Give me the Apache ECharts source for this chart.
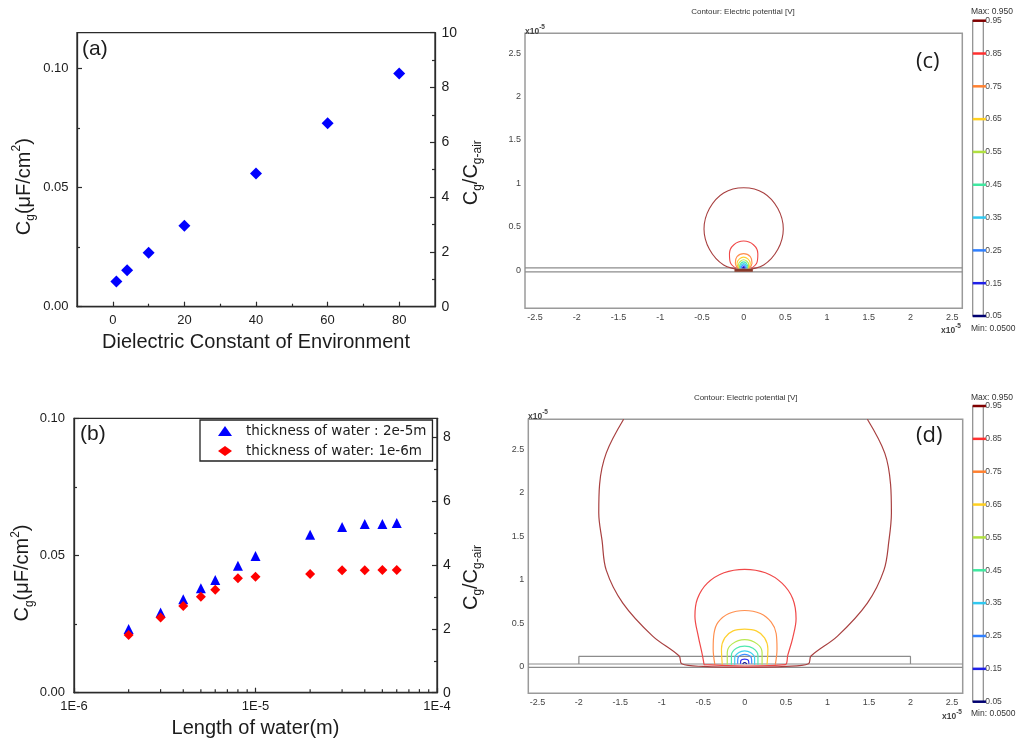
<!DOCTYPE html>
<html><head><meta charset="utf-8">
<script src="https://cdn.jsdelivr.net/npm/echarts@6/dist/echarts.min.js"></script>
<style>html,body{margin:0;padding:0;background:#fff}#chart{width:1026px;height:744px}</style>
</head><body><div id="chart"></div>
<script>
// ---------------- data ----------------
// panel (a)
const aDielectric = [1, 4, 10, 20, 40, 60, 80];
const aCg = [0.0106, 0.0153, 0.0226, 0.0340, 0.0559, 0.0770, 0.0979];
const aXTicks = [0, 20, 40, 60, 80];
const aXMinor = [10, 30, 50, 70];
const aYTicks = [0, 0.05, 0.10];
const aYMinor = [0.025, 0.075];
const aRTicks = [0, 2, 4, 6, 8, 10];
const aRMinor = [1, 3, 5, 7, 9];
// panel (b)
const bLength = [2e-6, 3e-6, 4e-6, 5e-6, 6e-6, 8e-6, 1e-5, 2e-5, 3e-5, 4e-5, 5e-5, 6e-5];
const bCgThick2e5 = [0.0232, 0.0292, 0.0341, 0.0381, 0.0411, 0.0463, 0.0498, 0.0576, 0.0604, 0.0615, 0.0615, 0.0618];
const bCgThick1e6 = [0.0210, 0.0274, 0.0316, 0.0350, 0.0375, 0.0417, 0.0423, 0.0433, 0.0446, 0.0446, 0.0447, 0.0447];
const bSeriesNames = ['thickness of water : 2e-5m', 'thickness of water: 1e-6m'];
const bXMinor = [2e-6, 3e-6, 4e-6, 5e-6, 6e-6, 7e-6, 8e-6, 9e-6, 2e-5, 3e-5, 4e-5, 5e-5, 6e-5, 7e-5, 8e-5, 9e-5];
const bYTicks = [0, 0.05, 0.10];
const bYMinor = [0.025, 0.075];
const bRTicks = [0, 2, 4, 6, 8];
const bRMinor = [1, 3, 5, 7];
// panels (c),(d): coordinates in units of 1e-5 m
const fieldTicksX = [-2.5, -2, -1.5, -1, -0.5, 0, 0.5, 1, 1.5, 2, 2.5];
const fieldTicksY = [0, 0.5, 1, 1.5, 2, 2.5];
const levels = ['0.05', '0.15', '0.25', '0.35', '0.45', '0.55', '0.65', '0.75', '0.85', '0.95'];
const levelColors = ['#000070', '#2020e8', '#3080ff', '#30c8f0', '#40e8a0', '#b0e040', '#ffd020', '#ff8030', '#ff3030', '#800000'];
const contourColors = ['#101090', '#3030f0', '#4090ff', '#40d0f0', '#50e8b0', '#b8e850', '#ffd030', '#ff9050', '#f04848', '#a84040'];

const c05 = [[-0.01,0.02],[0,0.03],[0.01,0.02]];
const c15 = [[-0.02,0.02],[0,0.045],[0.02,0.02]];
const c25 = [[-0.03,0.02],[-0.025,0.045],[0,0.06],[0.025,0.045],[0.03,0.02]];
const c35 = [[-0.04,0.02],[-0.035,0.05],[0,0.075],[0.035,0.05],[0.04,0.02]];
const c45 = [[-0.05,0.02],[-0.045,0.06],[0,0.095],[0.045,0.06],[0.05,0.02]];
const c55 = [[-0.055,0.02],[-0.06,0.07],[0,0.12],[0.06,0.07],[0.055,0.02]];
const c65 = [[-0.06,0.02],[-0.08,0.08],[-0.05,0.13],[0,0.15],[0.05,0.13],[0.08,0.08],[0.06,0.02]];
const c75 = [[-0.07,0.02],[-0.1,0.08],[-0.08,0.155],[0,0.19],[0.08,0.155],[0.1,0.08],[0.07,0.02]];
const c85 = [[-0.09,0.02],[-0.16,0.09],[-0.17,0.19],[-0.12,0.29],[0,0.335],[0.12,0.29],[0.17,0.19],[0.16,0.09],[0.09,0.02]];
const c95 = [[0,0],[-0.24,0.06],[-0.41,0.24],[-0.475,0.475],[-0.41,0.71],[-0.24,0.89],[0,0.95],[0.24,0.89],[0.41,0.71],[0.475,0.475],[0.41,0.24],[0.24,0.06],[0,0]];
const cContours = [c05, c15, c25, c35, c45, c55, c65, c75, c85, c95];
const cElectrode = [[-0.11,0.0],[0.11,0.0]];
const cLayerTop = [[-2.62,0.025],[2.62,0.025]];
const cLayerBottom = [[-2.62,-0.02],[2.62,-0.02]];

const d05 = [[-0.025,0.03],[0,0.045],[0.025,0.03]];
const d15 = [[-0.05,0.03],[-0.045,0.07],[0,0.085],[0.045,0.07],[0.05,0.03]];
const d25 = [[-0.085,0.03],[-0.08,0.1],[0,0.14],[0.08,0.1],[0.085,0.03]];
const d35 = [[-0.12,0.02],[-0.12,0.1],[-0.07,0.16],[0,0.18],[0.07,0.16],[0.12,0.1],[0.12,0.02]];
const d45 = [[-0.16,0.02],[-0.16,0.13],[-0.1,0.21],[0,0.235],[0.1,0.21],[0.16,0.13],[0.16,0.02]];
const d55 = [[-0.21,0.02],[-0.21,0.16],[-0.15,0.26],[0,0.31],[0.15,0.26],[0.21,0.16],[0.21,0.02]];
const d65 = [[-0.27,0.02],[-0.28,0.2],[-0.24,0.33],[-0.14,0.41],[0,0.43],[0.14,0.41],[0.24,0.33],[0.28,0.2],[0.27,0.02]];
const d75 = [[-0.36,0.02],[-0.38,0.2],[-0.37,0.38],[-0.32,0.51],[-0.19,0.61],[0,0.645],[0.19,0.61],[0.32,0.51],[0.38,0.38],[0.39,0.2],[0.37,0.02]];
const d85 = [[-0.49,0.02],[-0.51,0.13],[-0.56,0.35],[-0.60,0.58],[-0.57,0.78],[-0.45,0.96],[-0.25,1.08],[0,1.12],[0.25,1.08],[0.45,0.96],[0.58,0.78],[0.62,0.55],[0.58,0.33],[0.52,0.13],[0.49,0.02],[0,0.005],[-0.49,0.02]];
const d95 = [[-1.46,2.85],[-1.67,2.46],[-1.75,2.1],[-1.76,1.77],[-1.72,1.45],[-1.67,1.11],[-1.47,0.73],[-1.11,0.35],[-0.79,0.12],[-0.76,0.03],[-0.5,0.0],[0,-0.01],[0.5,0.0],[0.77,0.03],[0.80,0.12],[1.12,0.35],[1.48,0.73],[1.68,1.11],[1.74,1.45],[1.77,1.77],[1.76,2.1],[1.69,2.46],[1.48,2.85]];
const dContours = [d05, d15, d25, d35, d45, d55, d65, d75, d85, d95];
const dWater = [[-2,0.028],[-2,0.115],[2,0.115],[2,0.028]];
const dLayerTop = [[-2.61,0.028],[2.63,0.028]];
const dLayerBottom = [[-2.61,-0.012],[2.63,-0.012]];

// ---------------- styling helpers ----------------
const FONT = '"Liberation Sans", Arial, sans-serif';
const SMALL = '"Liberation Sans", Arial, sans-serif';
const INK = '#1c1c1c';
const AX = '#2b2b2b';
const richName = {
  m:   {fontSize: 20, fontFamily: FONT, color: INK, lineHeight: 26},
  sub: {fontSize: 12, fontFamily: FONT, color: INK, verticalAlign: 'bottom', lineHeight: 14},
  sup: {fontSize: 12, fontFamily: FONT, color: INK, verticalAlign: 'top', lineHeight: 14}
};
function mainAxis(o) {
  return Object.assign({
    type: 'value', splitLine: {show: false},
    axisLine: {show: true, onZero: false, lineStyle: {color: AX, width: 1.3}}
  }, o);
}
function minorAxis(o) {
  return Object.assign({
    type: 'value', splitLine: {show: false},
    axisLine: {show: false, onZero: false}, axisLabel: {show: false}
  }, o);
}
function tickStyle(vals, len) {
  return {show: true, inside: true, length: len, customValues: vals, lineStyle: {color: AX, width: 1.2}};
}
function labelStyle(vals, size, margin, fmt) {
  const s = {customValues: vals, color: INK, fontSize: size, margin: margin, fontFamily: FONT};
  if (fmt) s.formatter = fmt;
  return s;
}
function fieldX(grid, min, max) {
  return {type: 'value', gridIndex: grid, min: min, max: max, splitLine: {show: false},
    axisLine: {show: false, onZero: false}, axisTick: {show: false},
    axisLabel: {customValues: fieldTicksX, fontSize: 9, color: '#444', margin: 5, fontFamily: SMALL}};
}
function fieldY(grid, min, max) {
  return {type: 'value', gridIndex: grid, min: min, max: max, splitLine: {show: false},
    axisLine: {show: false, onZero: false}, axisTick: {show: false},
    axisLabel: {customValues: fieldTicksY, fontSize: 9, color: '#444', margin: 4, fontFamily: SMALL}};
}
function lineSeries(xi, yi, data, color, width, z) {
  return {type: 'line', xAxisIndex: xi, yAxisIndex: yi, data: data, showSymbol: false, symbol: 'none',
    smooth: 0.35, silent: true, animation: false, z: z || 3,
    lineStyle: {color: color, width: width}};
}
function smallText(text, left, top, size, align) {
  return {text: text, left: left, top: top, padding: 0, textAlign: align || 'left',
    textStyle: {fontSize: size, fontWeight: 'normal', color: '#333', fontFamily: SMALL}};
}
function x10(left, top) {
  return {text: '{b|x10}{s|-5}', left: left, top: top, padding: 0,
    textStyle: {rich: {b: {fontSize: 8.5, color: '#444', fontFamily: SMALL, lineHeight: 12, verticalAlign: 'bottom'},
                       s: {fontSize: 6.5, color: '#444', fontFamily: SMALL, lineHeight: 8, verticalAlign: 'top'}}}};
}
function panelLabel(text, left, top, size, family) {
  return {text: text, left: left, top: top, padding: 0,
    textStyle: {fontSize: size, fontWeight: 'normal', color: INK, fontFamily: family}};
}

// ---------------- option ----------------
const grids = [
  {left: 77, top: 32.7, width: 358, height: 274, show: true, borderColor: AX, borderWidth: 1.3},      // a
  {left: 74, top: 418.3, width: 363, height: 274.4, show: true, borderColor: AX, borderWidth: 1.3},   // b
  {left: 525, top: 33.3, width: 437.3, height: 275, show: true, borderColor: '#9a9a9a', borderWidth: 1.5}, // c
  {left: 528.3, top: 419.3, width: 434.4, height: 274, show: true, borderColor: '#9a9a9a', borderWidth: 1.5}, // d
  {left: 972.7, top: 20.7, width: 10.6, height: 295.3, show: true, borderColor: '#8a8a8a', borderWidth: 1.2, backgroundColor: '#fff'}, // cb c
  {left: 972.7, top: 406, width: 10.6, height: 295.7, show: true, borderColor: '#8a8a8a', borderWidth: 1.2, backgroundColor: '#fff'}   // cb d
];

const xAxes = [
  // 0: (a) main
  mainAxis({gridIndex: 0, min: -10, max: 90, position: 'bottom',
    axisTick: tickStyle(aXTicks, 5), axisLabel: labelStyle(aXTicks, 13, 7),
    name: 'Dielectric Constant of Environment', nameLocation: 'middle', nameGap: 26,
    nameTextStyle: {fontSize: 20, color: INK, fontFamily: FONT}}),
  // 1: (a) minor
  minorAxis({gridIndex: 0, min: -10, max: 90, position: 'bottom', axisTick: tickStyle(aXMinor, 3)}),
  // 2: (b) log
  {type: 'log', logBase: 10, gridIndex: 1, min: 1e-6, max: 1e-4, position: 'bottom', splitLine: {show: false},
    axisLine: {show: true, onZero: false, lineStyle: {color: AX, width: 1.3}},
    axisTick: {show: true, inside: true, length: 5, lineStyle: {color: AX, width: 1.2}},
    axisLabel: {color: INK, fontSize: 13, margin: 7, fontFamily: FONT,
      formatter: v => '1E' + Math.round(Math.log10(v))},
    minorTick: {show: false},
    name: 'Length of water(m)', nameLocation: 'middle', nameGap: 25.6,
    nameTextStyle: {fontSize: 20, color: INK, fontFamily: FONT}},
  // 3: (c)
  fieldX(2, -2.62, 2.62),
  // 4: (d)
  fieldX(3, -2.61, 2.63),
  // 5,6: colour bars (level strokes reach slightly past the bar's right edge)
  {type: 'value', gridIndex: 4, min: 0, max: 0.8, show: false},
  {type: 'value', gridIndex: 5, min: 0, max: 0.8, show: false}
];

const yAxes = [
  // 0: (a) left
  mainAxis({gridIndex: 0, min: 0, max: 0.115, position: 'left',
    axisTick: tickStyle(aYTicks, 5), axisLabel: labelStyle(aYTicks, 13, 8.5, v => v.toFixed(2)),
    name: '{m|C}{sub|g}{m|(μF/cm}{sup|2}{m|)}', nameLocation: 'middle', nameGap: 40, nameRotate: 90,
    nameTextStyle: {rich: richName, padding: [0, 34, 0, 0]}}),
  // 1: (a) left minor
  minorAxis({gridIndex: 0, min: 0, max: 0.115, position: 'left', axisTick: tickStyle(aYMinor, 3)}),
  // 2: (a) right
  mainAxis({gridIndex: 0, min: 0, max: 10, position: 'right',
    axisTick: tickStyle(aRTicks, 5), axisLabel: labelStyle(aRTicks, 14, 6.5),
    name: '{m|C}{sub|g}{m|/C}{sub|g-air}', nameLocation: 'middle', nameGap: 23, nameRotate: 90,
    nameTextStyle: {rich: richName, padding: [0, 6, 0, 0]}}),
  // 3: (a) right minor
  minorAxis({gridIndex: 0, min: 0, max: 10, position: 'right', axisTick: tickStyle(aRMinor, 3)}),
  // 4: (b) left
  mainAxis({gridIndex: 1, min: 0, max: 0.10, position: 'left',
    axisTick: tickStyle(bYTicks, 5), axisLabel: labelStyle(bYTicks, 13, 9, v => v.toFixed(2)),
    name: '{m|C}{sub|g}{m|(μF/cm}{sup|2}{m|)}', nameLocation: 'middle', nameGap: 37, nameRotate: 90,
    nameTextStyle: {rich: richName, padding: [0, 35, 0, 0]}}),
  // 5: (b) left minor
  minorAxis({gridIndex: 1, min: 0, max: 0.10, position: 'left', axisTick: tickStyle(bYMinor, 3)}),
  // 6: (b) right
  mainAxis({gridIndex: 1, min: 0, max: 8.6, position: 'right',
    axisTick: tickStyle(bRTicks, 5), axisLabel: labelStyle(bRTicks, 14, 6),
    name: '{m|C}{sub|g}{m|/C}{sub|g-air}', nameLocation: 'middle', nameGap: 21, nameRotate: 90,
    nameTextStyle: {rich: richName, padding: [0, 44, 0, 0]}}),
  // 7: (b) right minor
  minorAxis({gridIndex: 1, min: 0, max: 8.6, position: 'right', axisTick: tickStyle(bRMinor, 3)}),
  // 8: (c)
  fieldY(2, -0.44, 2.73),
  // 9: (d)
  fieldY(3, -0.31, 2.85),
  // 10, 11: colour bars
  {type: 'category', gridIndex: 4, data: levels, boundaryGap: false, position: 'right',
    axisLine: {show: false}, axisTick: {show: false}, splitLine: {show: false},
    axisLabel: {interval: 0, fontSize: 8.5, color: '#444', margin: 2, fontFamily: SMALL}},
  {type: 'category', gridIndex: 5, data: levels, boundaryGap: false, position: 'right',
    axisLine: {show: false}, axisTick: {show: false}, splitLine: {show: false},
    axisLabel: {interval: 0, fontSize: 8.5, color: '#444', margin: 2, fontFamily: SMALL}}
];

const series = [];
// (a)
series.push({type: 'scatter', xAxisIndex: 0, yAxisIndex: 0, symbol: 'diamond', symbolSize: 12,
  itemStyle: {color: '#0000ff', opacity: 1}, data: aDielectric.map((x, i) => [x, aCg[i]]), z: 5});
// (b)
series.push({name: bSeriesNames[0], type: 'scatter', xAxisIndex: 2, yAxisIndex: 4, symbol: 'triangle', symbolSize: 10,
  itemStyle: {color: '#0000ff', opacity: 1}, data: bLength.map((x, i) => [x, bCgThick2e5[i]]), z: 5});
series.push({name: bSeriesNames[1], type: 'scatter', xAxisIndex: 2, yAxisIndex: 4, symbol: 'diamond', symbolSize: 10,
  itemStyle: {color: '#ff0000', opacity: 1}, data: bLength.map((x, i) => [x, bCgThick1e6[i]]), z: 6});
// (b) minor log ticks, placed through the log scale
series.push({type: 'scatter', xAxisIndex: 2, yAxisIndex: 4, symbol: 'rect', symbolSize: [1.2, 3.5], symbolOffset: [0, -1.8],
  itemStyle: {color: AX, opacity: 1}, silent: true, data: bXMinor.map(x => [x, 0]), z: 7});
// (c)
series.push(lineSeries(3, 8, cLayerTop, '#8c8c8c', 1.2, 2));
series.push(lineSeries(3, 8, cLayerBottom, '#8c8c8c', 1.2, 2));
cContours.forEach((c, i) => series.push(lineSeries(3, 8, c, contourColors[i], 1.1, 4)));
series.push(lineSeries(3, 8, cElectrode, '#8a3a2a', 3, 5));
// (d)
series.push(lineSeries(4, 9, dLayerTop, '#8c8c8c', 1.2, 2));
series.push(lineSeries(4, 9, dLayerBottom, '#8c8c8c', 1.2, 2));
series.push(Object.assign(lineSeries(4, 9, dWater, '#8c8c8c', 1.2, 2), {smooth: false}));
dContours.forEach((c, i) => series.push(lineSeries(4, 9, c, contourColors[i], 1.2, 4)));
// colour bars
series.push({type: 'bar', xAxisIndex: 5, yAxisIndex: 10, barWidth: 2.5, silent: true, animation: false, clip: false,
  data: levels.map((l, i) => ({value: 1, itemStyle: {color: levelColors[i]}}))});
series.push({type: 'bar', xAxisIndex: 6, yAxisIndex: 11, barWidth: 2.5, silent: true, animation: false, clip: false,
  data: levels.map((l, i) => ({value: 1, itemStyle: {color: levelColors[i]}}))});

const titles = [
  panelLabel('(a)', 82, 39, 21, FONT),
  panelLabel('(b)', 80, 424, 21, FONT),
  panelLabel('(c)', 916, 51, 22, '"Open Sans", sans-serif'),
  panelLabel('(d)', 916, 425, 22, '"Open Sans", sans-serif'),
  smallText('Contour: Electric potential [V]', 743, 7.5, 8, 'center'),
  smallText('Contour: Electric potential [V]', 745.7, 393.5, 8, 'center'),
  smallText('Max: 0.950', 971, 7.5, 8.5),
  smallText('Min: 0.0500', 971, 324, 8.5),
  smallText('Max: 0.950', 971, 393, 8.5),
  smallText('Min: 0.0500', 971, 709.5, 8.5),
  x10(525, 24),
  x10(941, 323),
  x10(528, 409),
  x10(942, 709)
];

const option = {
  backgroundColor: '#ffffff',
  animation: false,
  title: titles,
  grid: grids,
  xAxis: xAxes,
  yAxis: yAxes,
  legend: {
    data: bSeriesNames, orient: 'vertical', left: 200, top: 420,
    padding: [4, 6, 3, 18], itemGap: 6, itemWidth: 14, itemHeight: 10,
    borderColor: '#222', borderWidth: 1.3, backgroundColor: '#fff',
    textStyle: {fontSize: 13.5, lineHeight: 14, color: INK, fontFamily: '"DejaVu Sans", sans-serif', padding: [0, 0, 0, 9]}
  },
  series: series
};

const chart = echarts.init(document.getElementById('chart'), null, {renderer: 'canvas'});
chart.setOption(option);
</script>
</body></html>
